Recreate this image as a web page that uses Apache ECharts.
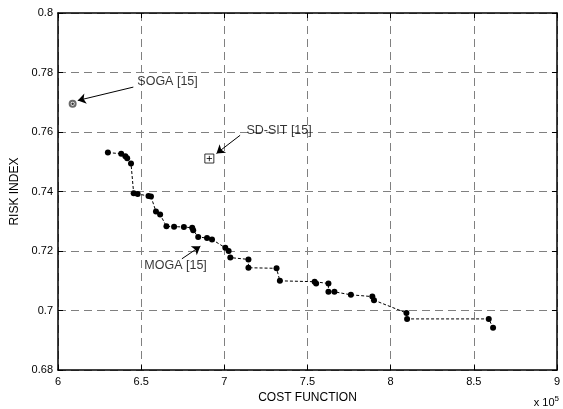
<!DOCTYPE html>
<html>
<head>
<meta charset="utf-8">
<script src="https://cdn.jsdelivr.net/npm/echarts@6/dist/echarts.min.js"></script>
<style>html,body{margin:0;padding:0;background:#fff}#c{width:563px;height:409px}</style>
</head>
<body>
<div id="c"></div>
<script>
// MOGA [15] Pareto front: cost function (x 10^5) and risk index
var mogaCost = [6.300, 6.380, 6.405, 6.416, 6.439, 6.455, 6.479, 6.544, 6.559, 6.589, 6.614, 6.652, 6.698, 6.757, 6.807, 6.813, 6.843, 6.896, 6.926, 7.006, 7.026, 7.036, 7.145, 7.145, 7.314, 7.334, 7.543, 7.552, 7.626, 7.626, 7.662, 7.761, 7.890, 7.900, 8.095, 8.099, 8.590, 8.616];
var mogaRisk = [0.7531, 0.7527, 0.7519, 0.7512, 0.7494, 0.7394, 0.7392, 0.7385, 0.7383, 0.7333, 0.7323, 0.7283, 0.7282, 0.7281, 0.7278, 0.7270, 0.7247, 0.7244, 0.7239, 0.7211, 0.7200, 0.7178, 0.7172, 0.7144, 0.7142, 0.7100, 0.7097, 0.7091, 0.7091, 0.7063, 0.7063, 0.7053, 0.7047, 0.7035, 0.6992, 0.6972, 0.6972, 0.6942];
var sogaPoint = [6.088, 0.7695];
var sdsitPoint = [6.910, 0.7511];
var xTicks = {min: 6, max: 9, step: 0.5};
var yTicks = {min: 0.68, max: 0.8, step: 0.02};
// annotation labels: [text, x, y] and arrows: [[x1,y1],[x2,y2]] in data units
var annoLabels = [["SOGA [15]", 6.477, 0.7768], ["SD-SIT [15]", 7.133, 0.7605], ["MOGA [15]", 6.519, 0.7150]];
var annoArrows = [[[6.453, 0.7751], [6.119, 0.7706]], [[7.095, 0.7589], [6.953, 0.7528]], [[6.745, 0.7174], [6.856, 0.7216]]];

var font = 'Liberation Sans, Arial, sans-serif';
var chart = echarts.init(document.getElementById('c'));
var frameAxis = {
  axisLine: {show: true, onZero: false, lineStyle: {color: '#000', width: 1.5}},
  axisTick: {show: true, inside: true, length: 5, lineStyle: {color: '#000'}},
  axisLabel: {show: false},
  splitLine: {show: false}
};
chart.setOption({
  animation: false,
  backgroundColor: '#fff',
  grid: {left: 58, right: 2, top: 13, bottom: 36, containLabel: false},
  xAxis: [{
    type: 'value', min: xTicks.min, max: xTicks.max, interval: xTicks.step,
    name: 'COST FUNCTION', nameLocation: 'middle', nameGap: 21,
    nameTextStyle: {color: '#000', fontSize: 12, fontFamily: font},
    axisLine: {show: true, onZero: false, lineStyle: {color: '#000', width: 1.5}},
    axisTick: {show: true, inside: true, length: 5, lineStyle: {color: '#000'}},
    axisLabel: {color: '#000', fontSize: 11, fontFamily: font, margin: 6},
    splitLine: {show: true, lineStyle: {color: '#808080', type: [8, 5], width: 1}}
  }, Object.assign({type: 'value', position: 'top', min: xTicks.min, max: xTicks.max, interval: xTicks.step}, frameAxis)],
  yAxis: [{
    type: 'value', min: yTicks.min, max: yTicks.max, interval: yTicks.step,
    name: 'RISK INDEX', nameLocation: 'middle', nameGap: 34,
    nameTextStyle: {color: '#000', fontSize: 12, fontFamily: font},
    axisLine: {show: true, onZero: false, lineStyle: {color: '#000', width: 1.5}},
    axisTick: {show: true, inside: true, length: 5, lineStyle: {color: '#000'}},
    axisLabel: {color: '#000', fontSize: 11, fontFamily: font, margin: 5},
    splitLine: {show: true, lineStyle: {color: '#808080', type: [8, 5], width: 1}}
  }, Object.assign({type: 'value', position: 'right', min: yTicks.min, max: yTicks.max, interval: yTicks.step}, frameAxis)],
  series: [{
    type: 'line',
    data: mogaCost.map(function (c, i) { return [c, mogaRisk[i]]; }),
    symbol: 'circle', symbolSize: 6,
    itemStyle: {color: '#000'},
    lineStyle: {color: '#000', width: 1, type: [3, 2]},
    z: 5
  }, {
    type: 'scatter',
    data: [sogaPoint],
    symbol: 'emptyCircle', symbolSize: 6,
    itemStyle: {color: '#444', borderColor: '#444', borderWidth: 1},
    z: 6
  }, {
    type: 'scatter',
    data: [sogaPoint],
    symbol: 'circle', symbolSize: 2.5,
    itemStyle: {color: '#000'},
    z: 7
  }, {
    type: 'scatter',
    data: [sdsitPoint],
    symbol: 'path://M0,0L10,0L10,10L0,10Z M5,2L5,8 M2,5L8,5',
    symbolSize: 9,
    itemStyle: {color: 'rgba(0,0,0,0)', borderColor: '#000', borderWidth: 1},
    z: 6
  }, {
    type: 'scatter',
    data: annoLabels.map(function (a) { return {value: [a[1], a[2]], name: a[0]}; }),
    symbolSize: 0,
    label: {show: true, position: 'right', distance: 0, formatter: '{b}', color: '#000', fontSize: 12.5, fontFamily: font},
    silent: true,
    z: 8,
    markLine: {
      silent: true,
      symbol: ['none', 'arrow'], symbolSize: 8,
      label: {show: false},
      lineStyle: {color: '#000', width: 1, type: 'solid'},
      data: annoArrows.map(function (a) { return [{coord: a[0]}, {coord: a[1]}]; })
    }
  }],
  graphic: [{
    type: 'text', right: 4, bottom: 1,
    style: {
      text: 'x 10{s|5}', fill: '#000', font: '11px ' + font,
      rich: {s: {fontSize: 8, verticalAlign: 'top', padding: [0, 0, 8, 0]}}
    }
  }]
});
</script>
</body>
</html>
